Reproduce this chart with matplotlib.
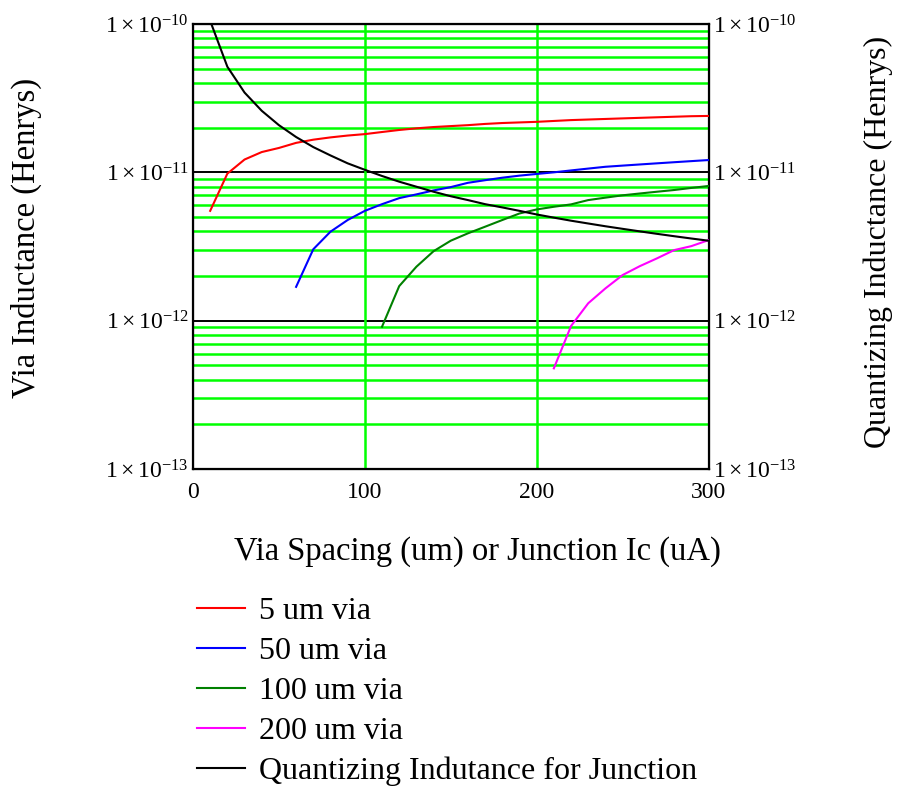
import numpy as np
import matplotlib
matplotlib.use("Agg")
import matplotlib.pyplot as plt
from matplotlib.ticker import FixedLocator, FixedFormatter, NullFormatter

plt.rcParams['font.family'] = ['Liberation Serif', 'DejaVu Serif']
plt.rcParams['mathtext.fontset'] = 'custom'
plt.rcParams['mathtext.rm'] = 'Liberation Serif'
plt.rcParams['mathtext.it'] = 'Liberation Serif'

# data (x in um / uA, y in Henrys)
x_red = np.arange(10, 301, 10)
y_red = [5.5e-12, 9.8e-12, 1.22e-11, 1.37e-11, 1.46e-11, 1.58e-11, 1.66e-11, 1.72e-11,
         1.77e-11, 1.81e-11, 1.87e-11, 1.93e-11, 1.98e-11, 2.02e-11, 2.05e-11, 2.08e-11,
         2.12e-11, 2.15e-11, 2.17e-11, 2.19e-11, 2.22e-11, 2.25e-11, 2.27e-11, 2.29e-11,
         2.31e-11, 2.33e-11, 2.35e-11, 2.37e-11, 2.39e-11, 2.40e-11]

x_blue = np.arange(60, 301, 10)
y_blue = [1.69e-12, 3.03e-12, 3.98e-12, 4.77e-12, 5.5e-12, 6.1e-12, 6.7e-12, 7.1e-12,
          7.55e-12, 7.95e-12, 8.5e-12, 8.85e-12, 9.2e-12, 9.5e-12, 9.75e-12, 1.0e-11,
          1.03e-11, 1.06e-11, 1.09e-11, 1.11e-11, 1.13e-11, 1.15e-11, 1.17e-11, 1.19e-11,
          1.21e-11]

x_green = np.arange(110, 301, 10)
y_green = [9.1e-13, 1.71e-12, 2.31e-12, 2.94e-12, 3.46e-12, 3.88e-12, 4.3e-12, 4.77e-12,
           5.28e-12, 5.62e-12, 5.86e-12, 6.08e-12, 6.5e-12, 6.75e-12, 7.0e-12, 7.2e-12,
           7.4e-12, 7.6e-12, 7.85e-12, 8.09e-12]

x_mag = np.arange(210, 301, 10)
y_mag = [4.77e-13, 9.2e-13, 1.31e-12, 1.65e-12, 2.03e-12, 2.33e-12, 2.63e-12, 2.99e-12,
         3.18e-12, 3.49e-12]

x_blk = np.arange(10, 301, 10)
y_blk = [1.05e-10, 5.15e-11, 3.45e-11, 2.6e-11, 2.08e-11, 1.73e-11, 1.48e-11, 1.3e-11,
         1.15e-11, 1.04e-11, 9.45e-12, 8.65e-12, 8.0e-12, 7.4e-12, 6.9e-12, 6.5e-12,
         6.1e-12, 5.8e-12, 5.5e-12, 5.2e-12, 4.95e-12, 4.72e-12, 4.52e-12, 4.33e-12,
         4.16e-12, 4.0e-12, 3.85e-12, 3.71e-12, 3.58e-12, 3.46e-12]

labels = ['5 um via', '50 um via', '100 um via', '200 um via', 'Quantizing Indutance for Junction']
decades = [1e-13, 1e-12, 1e-11, 1e-10]
dec_labels = [r'$1\times10^{-13}$', r'$1\times10^{-12}$', r'$1\times10^{-11}$', r'$1\times10^{-10}$']
xticks = [0, 100, 200, 300]

fig = plt.figure(figsize=(8.99, 7.88), dpi=100)
ax = fig.add_axes([193/899, 1-469/788, (708.5-193)/899, (469-24)/788])

# grid: green minor lines, black decade lines
minors = [m * d for d in decades[:-1] for m in range(2, 10)]
for v in minors:
    ax.axhline(v, color='#00ff00', lw=1.8, zorder=1)
for v in decades[1:-1]:
    ax.axhline(v, color='black', lw=1.4, zorder=1)
for v in xticks[1:-1]:
    ax.axvline(v, color='#00ff00', lw=1.8, zorder=1)

lr, = ax.plot(x_red, y_red, color='#ff0000', lw=1.5, zorder=3)
lb, = ax.plot(x_blue, y_blue, color='#0000ff', lw=1.5, zorder=3)
lg, = ax.plot(x_green, y_green, color='#008000', lw=1.5, zorder=3)
lm, = ax.plot(x_mag, y_mag, color='#ff00ff', lw=1.5, zorder=3)
lk, = ax.plot(x_blk, y_blk, color='black', lw=1.5, zorder=3)

ax.set_yscale('log')
ax.set_ylim(1e-13, 1e-10)
ax.set_xlim(0, 300)
ax.yaxis.set_major_locator(FixedLocator(decades))
ax.yaxis.set_major_formatter(FixedFormatter(dec_labels))
ax.yaxis.set_minor_formatter(NullFormatter())
ax.set_xticks(xticks)
ax.tick_params(axis='both', which='both', length=0, labelsize=17)
ax.tick_params(axis='x', pad=9)
ax.tick_params(axis='y', pad=3)
for s in ax.spines.values():
    s.set_linewidth(1.6)

ax2 = ax.twinx()
ax2.set_yscale('log')
ax2.set_ylim(1e-13, 1e-10)
ax2.yaxis.set_major_locator(FixedLocator(decades))
ax2.yaxis.set_major_formatter(FixedFormatter(dec_labels))
ax2.yaxis.set_minor_formatter(NullFormatter())
ax2.tick_params(axis='y', which='both', length=0, labelsize=17, pad=3)

fig.text(26/899, 1-238/788, 'Via Inductance (Henrys)', rotation=90, ha='center', va='center', fontsize=23.5)
fig.text(878/899, 1-242/788, 'Quantizing Inductance (Henrys)', rotation=90, ha='center', va='center', fontsize=23)
fig.text(477/899, 1-552/788, 'Via Spacing (um) or Junction Ic (uA)', ha='center', va='center', fontsize=23.5)

fig.legend([lr, lb, lg, lm, lk], labels, loc='upper left', bbox_to_anchor=(197/899, 1-597/788),
           frameon=False, fontsize=23, handlelength=1.5, handletextpad=0.45,
           labelspacing=0.33, borderpad=0, borderaxespad=0)

fig.savefig('out.png', dpi=100)
